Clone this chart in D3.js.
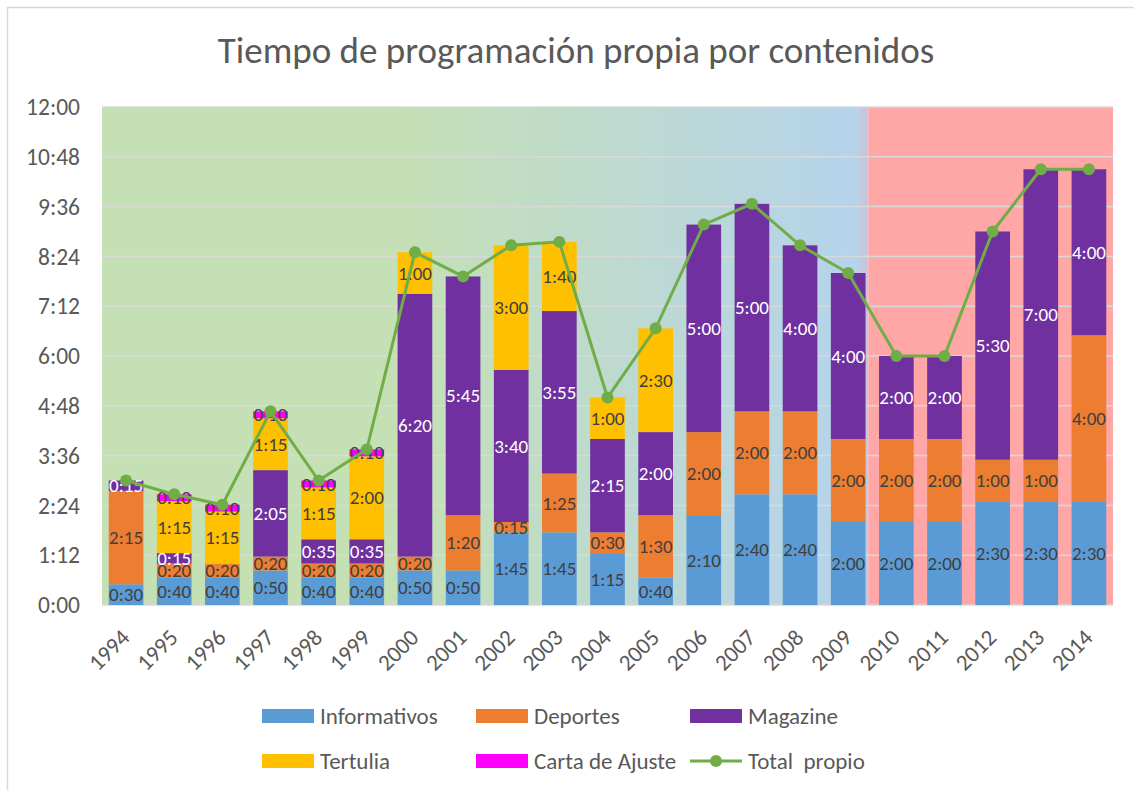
<!DOCTYPE html>
<html>
<head>
<meta charset="utf-8">
<script src="https://cdn.jsdelivr.net/npm/d3@7"></script>
<style>
  body { margin: 0; background: #fff; }
  svg text { font-family: Calibri, Carlito, Lato, sans-serif; }
</style>
</head>
<body>
<div id="chart"></div>
<script>
/// Data (minutes per day)
var years = ["1994","1995","1996","1997","1998","1999","2000","2001","2002","2003","2004",
             "2005","2006","2007","2008","2009","2010","2011","2012","2013","2014"];
var informativos = [30, 40, 40, 50, 40, 40, 50, 50, 105, 105, 75, 40, 130, 160, 160, 120, 120, 120, 150, 150, 150];
var deportes     = [135, 20, 20, 20, 20, 20, 20, 80, 15, 85, 30, 90, 120, 120, 120, 120, 120, 120, 60, 60, 240];
var magazine     = [15, 15, 0, 125, 35, 35, 380, 345, 220, 235, 135, 120, 300, 300, 240, 240, 120, 120, 330, 420, 240];
var tertulia     = [0, 75, 75, 75, 75, 120, 60, 0, 180, 100, 60, 150, 0, 0, 0, 0, 0, 0, 0, 0, 0];
var cartaAjuste  = [0, 10, 10, 10, 10, 10, 0, 0, 0, 0, 0, 0, 0, 0, 0, 0, 0, 0, 0, 0, 0];
var totalPropio  = [180, 160, 145, 280, 180, 225, 510, 475, 520, 525, 300, 400, 550, 580, 520, 480, 360, 360, 540, 630, 630];
var yTicks = [0, 72, 144, 216, 288, 360, 432, 504, 576, 648, 720];

var seriesNames = ["Informativos", "Deportes", "Magazine", "Tertulia", "Carta de Ajuste"];
var seriesColors = ["#5B9BD5", "#ED7D31", "#7030A0", "#FFC000", "#FF00FF"];
var labelColors = ["#404040", "#404040", "#ffffff", "#404040", "#404040"];
var lineColor = "#70AD47";

//Geometry
var W = 1134, H = 790;
var plot = { left: 102, right: 1113, top: 107, bottom: 605 };

function fmt(m) {
  var h = Math.floor(m / 60), mm = m % 60;
  return h + ":" + (mm < 10 ? "0" : "") + mm;
}

var rows = years.map(function (y, i) {
  return { year: y, Informativos: informativos[i], Deportes: deportes[i], Magazine: magazine[i],
           Tertulia: tertulia[i], "Carta de Ajuste": cartaAjuste[i], total: totalPropio[i] };
});

var xScale = d3.scaleBand().domain(years).range([plot.left, plot.right])
  .paddingInner(0.28).paddingOuter(0.14);
var yScale = d3.scaleLinear().domain([0, 720]).range([plot.bottom, plot.top]);

var svg = d3.select("#chart").append("svg")
  .attr("width", W).attr("height", H);

// chart border (only top/left are inside the picture)
svg.append("rect").attr("x", 7.5).attr("y", 7.5).attr("width", 1200).attr("height", 900)
  .attr("fill", "#fff").attr("stroke", "#D9D9D9").attr("stroke-width", 1.5);

// title
svg.append("text").attr("x", 576).attr("y", 63).attr("text-anchor", "middle")
  .attr("font-size", 37).attr("fill", "#595959")
  .text("Tiempo de programación propia por contenidos");

// background regions
var defs = svg.append("defs");
var grad = defs.append("linearGradient").attr("id", "bgGrad")
  .attr("gradientUnits", "userSpaceOnUse")
  .attr("x1", plot.left).attr("x2", 868).attr("y1", 0).attr("y2", 0);
grad.append("stop").attr("offset", 0.38).attr("stop-color", "#C5E0B4");
grad.append("stop").attr("offset", 0.99).attr("stop-color", "#B5D3EC");
grad.append("stop").attr("offset", 0.99).attr("stop-color", "#C4C8DE");

var split = xScale("2010") - xScale.step() * xScale.paddingInner() / 2 - 4;
svg.append("rect").attr("x", plot.left).attr("y", plot.top)
  .attr("width", split - plot.left).attr("height", plot.bottom - plot.top)
  .attr("fill", "url(#bgGrad)");
svg.append("rect").attr("x", split).attr("y", plot.top)
  .attr("width", plot.right - split).attr("height", plot.bottom - plot.top)
  .attr("fill", "#FFA6A6");

// gridlines
svg.append("g").selectAll("line").data(yTicks).join("line")
  .attr("x1", plot.left).attr("x2", plot.right)
  .attr("y1", function (d) { return yScale(d); }).attr("y2", function (d) { return yScale(d); })
  .attr("stroke", "#D9D9D9").attr("stroke-width", 1.5);

// y axis labels
svg.append("g").selectAll("text").data(yTicks).join("text")
  .attr("x", 80).attr("y", function (d) { return yScale(d); })
  .attr("dy", "0.35em").attr("text-anchor", "end")
  .attr("font-size", 23.5).attr("fill", "#595959")
  .text(fmt);

// x axis labels
svg.append("g").selectAll("text").data(years).join("text")
  .attr("text-anchor", "end")
  .attr("transform", function (d) {
    return "translate(" + (xScale(d) + xScale.bandwidth() / 2 + 5) + "," + (plot.bottom + 34) + ") rotate(-45)";
  })
  .attr("font-size", 23).attr("fill", "#595959")
  .text(function (d) { return d; });

// stacked bars
var stack = d3.stack().keys(seriesNames)(rows);
var layers = svg.append("g").selectAll("g").data(stack).join("g")
  .attr("fill", function (d, i) { return seriesColors[i]; });
layers.selectAll("rect").data(function (d) { return d; }).join("rect")
  .attr("x", function (d) { return xScale(d.data.year); })
  .attr("width", xScale.bandwidth())
  .attr("y", function (d) { return yScale(d[1]); })
  .attr("height", function (d) { return yScale(d[0]) - yScale(d[1]); });

// segment labels
stack.forEach(function (layer, i) {
  svg.append("g").selectAll("text")
    .data(layer.filter(function (d) { return d[1] - d[0] > 0; }))
    .join("text")
    .attr("x", function (d) { return xScale(d.data.year) + xScale.bandwidth() / 2; })
    .attr("y", function (d) { return yScale((d[0] + d[1]) / 2); })
    .attr("dy", "0.35em").attr("text-anchor", "middle")
    .attr("font-size", 19).attr("fill", labelColors[i])
    .text(function (d) { return fmt(d[1] - d[0]); });
});

// total line
var line = d3.line()
  .x(function (d) { return xScale(d.year) + xScale.bandwidth() / 2; })
  .y(function (d) { return yScale(d.total); });
svg.append("path").datum(rows)
  .attr("fill", "none").attr("stroke", lineColor).attr("stroke-width", 3)
  .attr("d", line);
svg.append("g").selectAll("circle").data(rows).join("circle")
  .attr("cx", function (d) { return xScale(d.year) + xScale.bandwidth() / 2; })
  .attr("cy", function (d) { return yScale(d.total); })
  .attr("r", 6).attr("fill", lineColor);

// legend
var legendItems = seriesNames.concat(["Total  propio"]);
var legendPos = [[262, 716], [476, 716], [690, 716], [262, 761], [476, 761], [690, 761]];
var leg = svg.append("g").selectAll("g").data(legendItems).join("g")
  .attr("transform", function (d, i) { return "translate(" + legendPos[i][0] + "," + legendPos[i][1] + ")"; });
leg.each(function (d, i) {
  var g = d3.select(this);
  if (i < seriesNames.length) {
    g.append("rect").attr("x", 0).attr("y", -7).attr("width", 52).attr("height", 14)
      .attr("fill", seriesColors[i]);
  } else {
    g.append("line").attr("x1", 0).attr("x2", 52).attr("y1", 0).attr("y2", 0)
      .attr("stroke", lineColor).attr("stroke-width", 3);
    g.append("circle").attr("cx", 26).attr("cy", 0).attr("r", 6).attr("fill", lineColor);
  }
  g.append("text").attr("x", 58).attr("y", 0).attr("dy", "0.35em")
    .attr("font-size", 23).attr("fill", "#595959")
    .style("white-space", "pre")
    .text(d);
});
</script>
</body>
</html>
